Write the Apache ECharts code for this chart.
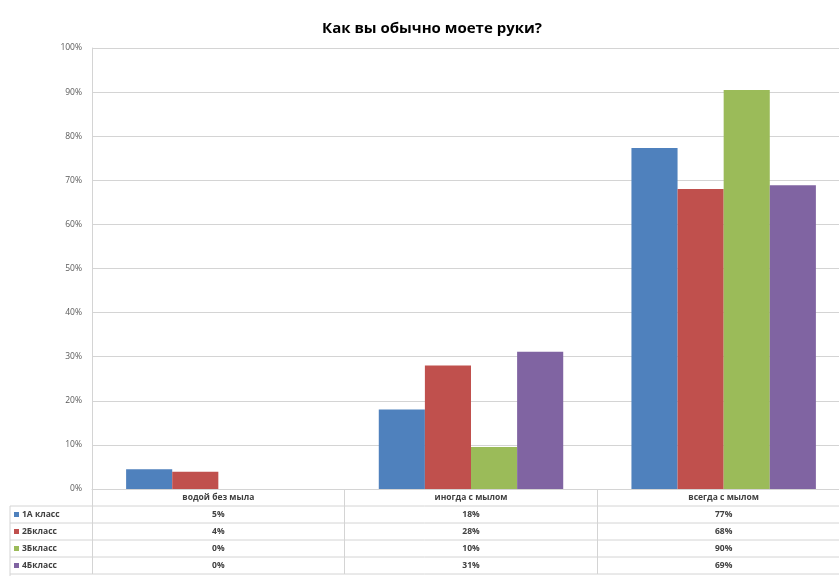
<!DOCTYPE html>
<html><head><meta charset="utf-8">
<script src="https://cdn.jsdelivr.net/npm/echarts@6/dist/echarts.min.js"></script>
<style>html,body{margin:0;padding:0;background:#fff}#c{width:839px;height:576px}</style>
</head><body><div id="c"></div>
<script>
const title = 'Как вы обычно моете руки?';
const categories = ['водой без мыла', 'иногда с мылом', 'всегда с мылом'];
const seriesNames = ['1А класс', '2Бкласс', '3Бкласс', '4Бкласс'];
const s1 = [4.5, 18, 77.3];
const s2 = [3.9, 28, 68];
const s3 = [0, 9.5, 90.5];
const s4 = [0, 31.1, 68.9];
const tableText1 = ['5%', '18%', '77%'];
const tableText2 = ['4%', '28%', '68%'];
const tableText3 = ['0%', '10%', '90%'];
const tableText4 = ['0%', '31%', '69%'];
const yTicks = [0, 10, 20, 30, 40, 50, 60, 70, 80, 90, 100];

const values = [s1, s2, s3, s4];
const tableTexts = [tableText1, tableText2, tableText3, tableText4];
const colors = ['#4F81BD', '#C0504D', '#9BBB59', '#8064A2'];
const FONT = 'Open Sans';
const gridLeft = 92, gridTop = 48, gridH = 441, gridW = 758;
const rowH = 17;
const axisY = gridTop + gridH;
const lineColor = '#d4d4d4';
const TFS = 8.5;

const xAxes = [{
  type: 'category', data: categories, gridIndex: 0, position: 'bottom',
  axisLine: { lineStyle: { color: lineColor } },
  axisTick: { show: true, length: rowH * 5, lineStyle: { color: lineColor } },
  axisLabel: { fontFamily: FONT, fontSize: TFS, fontWeight: 'bold', color: '#404040', margin: 4 }
}];
tableTexts.forEach((t, i) => {
  xAxes.push({
    type: 'category', data: categories, gridIndex: 0, position: 'bottom',
    offset: rowH * (i + 1),
    axisLine: { show: false }, axisTick: { show: false },
    axisLabel: { fontFamily: FONT, fontSize: TFS, fontWeight: 'bold', color: '#404040', margin: 4,
      formatter: (v, idx) => t[idx] }
  });
});

const graphics = [];
for (let r = 1; r <= 5; r++) {
  const y = axisY + rowH * r;
  graphics.push({ type: 'line', shape: { x1: 10, y1: y, x2: 839, y2: y }, style: { stroke: lineColor, lineWidth: 1 }, silent: true });
}
graphics.push({ type: 'line', shape: { x1: 10, y1: axisY + rowH, x2: 10, y2: 576 }, style: { stroke: lineColor, lineWidth: 1 }, silent: true });
seriesNames.forEach((n, i) => {
  const cy = axisY + rowH * (i + 1) + rowH / 2;
  graphics.push({ type: 'rect', shape: { x: 14, y: cy - 2.5, width: 5, height: 5 }, style: { fill: colors[i] }, silent: true });
  graphics.push({ type: 'text', x: 22, y: cy, style: { text: n, fontFamily: FONT, fontSize: TFS, fontWeight: 'bold', fill: '#404040', verticalAlign: 'middle', align: 'left' }, silent: true });
});

const option = {
  animation: false,
  backgroundColor: '#fff',
  title: { text: title, left: 427, top: 16, textAlign: 'center',
    textStyle: { fontFamily: FONT, fontSize: 15, fontWeight: 'bold', color: '#000' } },
  grid: { left: gridLeft, top: gridTop, width: gridW, height: gridH, containLabel: false, outerBoundsMode: 'none' },
  xAxis: xAxes,
  yAxis: {
    type: 'value', min: yTicks[0], max: yTicks[yTicks.length - 1], interval: yTicks[1] - yTicks[0],
    axisLine: { show: true, lineStyle: { color: lineColor } },
    axisTick: { show: false },
    splitLine: { lineStyle: { color: lineColor } },
    axisLabel: { formatter: '{value}%', fontFamily: FONT, fontSize: 8.5, color: '#595959', margin: 10 }
  },
  series: values.map((v, i) => ({
    name: seriesNames[i], type: 'bar', data: v, xAxisIndex: 0,
    itemStyle: { color: colors[i] },
    barGap: '0%', barCategoryGap: '27%'
  })),
  graphic: graphics
};
echarts.init(document.getElementById('c'), null, { renderer: 'canvas' }).setOption(option);
</script>
</body></html>
